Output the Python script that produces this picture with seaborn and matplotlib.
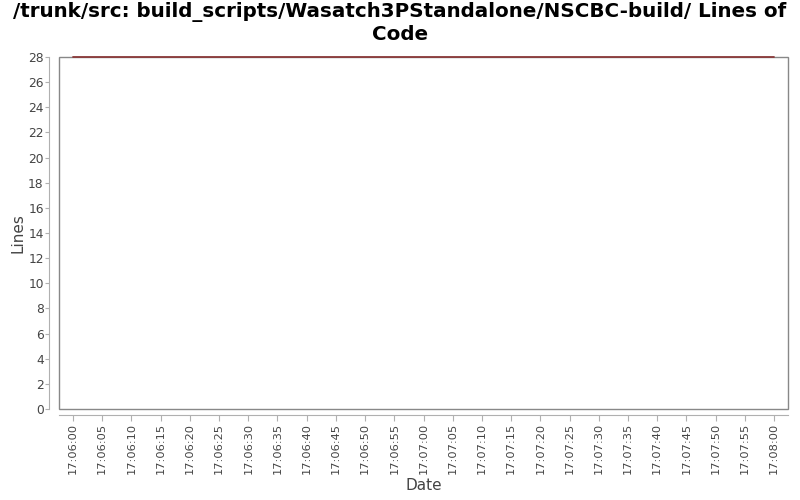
import pandas as pd
import matplotlib
matplotlib.use("Agg")
import matplotlib.pyplot as plt
import matplotlib.dates as mdates
from matplotlib.patches import Rectangle
import seaborn as sns

# data
dates = ["2021-01-01 17:06:00", "2021-01-01 17:08:00"]
lines = [28, 28]
title = "/trunk/src: build_scripts/Wasatch3PStandalone/NSCBC-build/ Lines of\nCode"

df = pd.DataFrame({"Date": pd.to_datetime(dates), "Lines": lines})

sns.set_style("white")
plt.rcParams['font.family'] = ['DejaVu Sans']

fig = plt.figure(figsize=(8, 5), dpi=100)
ax = fig.add_axes([0.07375, 0.182, 0.91125, 0.704])

ax.add_patch(Rectangle((0, 0), 1, 1, transform=ax.transAxes, fill=False,
                       edgecolor="#888888", linewidth=1.0, clip_on=False, zorder=1))
sns.lineplot(data=df, x="Date", y="Lines", ax=ax, color="#8b3a3a", linewidth=1.3,
             zorder=5, clip_on=False)

start = pd.Timestamp("2021-01-01 17:06:00")
end = pd.Timestamp("2021-01-01 17:08:00")
pad = pd.Timedelta(seconds=2.4)
ax.set_xlim(start - pad, end + pad)
ax.set_ylim(0, 28)

ax.set_xticks(pd.date_range(start, end, freq="5s"))
ax.xaxis.set_major_formatter(mdates.DateFormatter("%H:%M:%S"))
ax.set_yticks(range(0, 29, 2))
ax.tick_params(axis="x", rotation=90, labelsize=8.2, pad=2)
ax.tick_params(axis="y", labelsize=8.8, pad=1, length=3)
ax.tick_params(axis="both", direction="out", width=0.8,
               color="#b0b0b0", labelcolor="#444444", left=True, bottom=True)
ax.tick_params(axis="x", length=4)

for s in ["top", "right"]:
    ax.spines[s].set_visible(False)
ax.spines["left"].set_position(("outward", 7))
ax.spines["bottom"].set_position(("outward", 4))
ax.spines["left"].set_color("#b0b0b0")
ax.spines["bottom"].set_color("#b0b0b0")

ax.set_xlabel("Date", fontsize=11, color="#444444", labelpad=3)
ax.set_ylabel("Lines", fontsize=11, color="#444444", labelpad=2)
fig.suptitle(title, fontsize=14.3, fontweight="bold", color="black", y=0.995)

fig.savefig("out.png", dpi=100)
